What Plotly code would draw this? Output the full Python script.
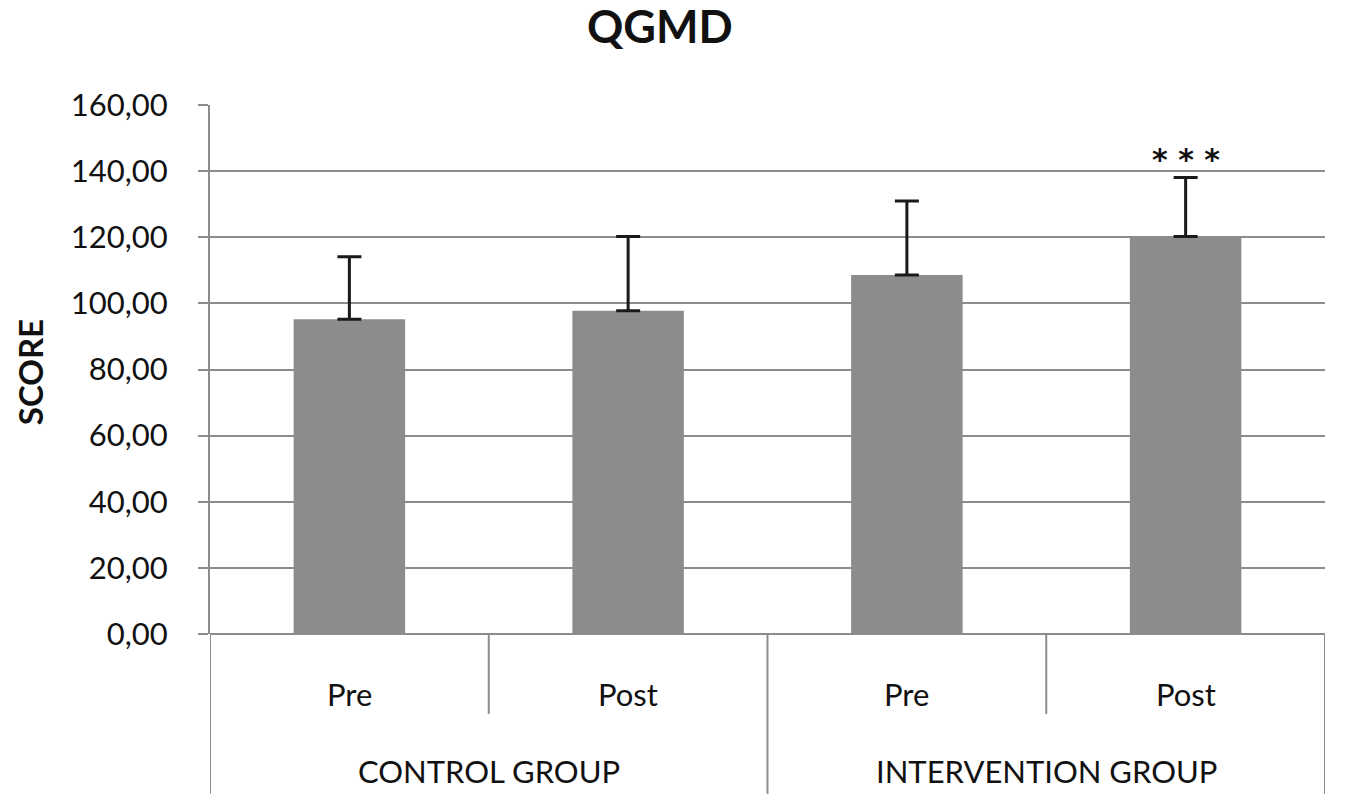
import plotly.graph_objects as go

groups = ["CONTROL GROUP", "CONTROL GROUP", "INTERVENTION GROUP", "INTERVENTION GROUP"]
phases = ["Pre", "Post", "Pre", "Post"]
means = [95.2, 97.8, 108.6, 120.2]
sds = [18.9, 22.4, 22.4, 17.9]
significance = ["", "", "", "<b>* * *</b>"]
y_ticks = [0, 20, 40, 60, 80, 100, 120, 140, 160]
title_text = "QGMD"
y_title = "SCORE"

GRAY = "#8c8c8c"
FONT = "Lato"
TXT = "#111111"

xs = list(range(len(means)))

fig = go.Figure()
fig.add_trace(go.Bar(
    x=xs, y=means, width=0.4,
    marker=dict(color=GRAY, line=dict(width=0)),
    error_y=dict(type="data", array=sds, symmetric=False, arrayminus=[0] * len(sds),
                 color="#1a1a1a", thickness=3, width=12),
    showlegend=False, hoverinfo="skip",
))

annotations = []
# Title
annotations.append(dict(x=0.404, y=1.0, xref="paper", yref="paper", text=f"<b>{title_text}</b>",
                        showarrow=False, xanchor="center", yanchor="bottom", yshift=51,
                        borderpad=0,
                        font=dict(family=FONT, size=45, color=TXT)))
# Significance stars
for x, m, s, t in zip(xs, means, sds, significance):
    if t:
        annotations.append(dict(x=x, y=m + s, xref="x", yref="y", text=t, showarrow=False,
                                yanchor="middle", yshift=18,
                                font=dict(family="DejaVu Sans", size=30, color=TXT)))
# Phase labels
for x, p in zip(xs, phases):
    annotations.append(dict(x=x, y=-0.113, xref="x", yref="paper", text=p, showarrow=False,
                            yanchor="middle", font=dict(family=FONT, size=31, color=TXT)))
# Group labels
unique_groups = []
for g in groups:
    if g not in unique_groups:
        unique_groups.append(g)
for g in unique_groups:
    idx = [i for i, gg in enumerate(groups) if gg == g]
    cx = sum(idx) / len(idx)
    annotations.append(dict(x=cx, y=-0.259, xref="x", yref="paper", text=g, showarrow=False,
                            yanchor="middle", font=dict(family=FONT, size=31, color=TXT)))
# Y axis title
annotations.append(dict(x=-0.1614, y=0.495, xref="paper", yref="paper", text=f"<b>{y_title}</b>",
                        showarrow=False, textangle=-90, xanchor="center", yanchor="middle",
                        font=dict(family=FONT, size=33, color=TXT)))

shapes = []
# Dividers: boundaries between categories
for i in range(len(xs) + 1):
    b = i - 0.5
    long_line = (i == 0 or i == len(xs) or groups[i - 1] != groups[i])
    y1 = -0.302 if long_line else -0.151
    shapes.append(dict(type="line", xref="x", yref="paper", x0=b, x1=b, y0=0, y1=y1,
                       line=dict(color=GRAY, width=2)))

fig.update_layout(
    width=1353, height=804,
    margin=dict(l=210, r=28, t=105, b=170),
    paper_bgcolor="white", plot_bgcolor="white",
    separators=",.",
    hovermode=False,
    xaxis=dict(range=[-0.5, len(xs) - 0.5], showticklabels=False, showgrid=False,
               zeroline=False, showline=False, ticks=""),
    yaxis=dict(range=[0, 160], tickvals=y_ticks, tickformat=".2f",
               showgrid=True, gridcolor=GRAY, gridwidth=2,
               showline=True, linecolor=GRAY, linewidth=2,
               ticks="outside", ticklen=10, tickcolor=GRAY, tickwidth=2,
               ticklabelstandoff=24,
               zeroline=True, zerolinecolor=GRAY, zerolinewidth=2,
               tickfont=dict(family=FONT, size=31, color=TXT)),
    annotations=annotations,
    shapes=shapes,
)

fig.write_html("out.html", config={"displayModeBar": False},
               post_script="document.body.style.margin='0';")
